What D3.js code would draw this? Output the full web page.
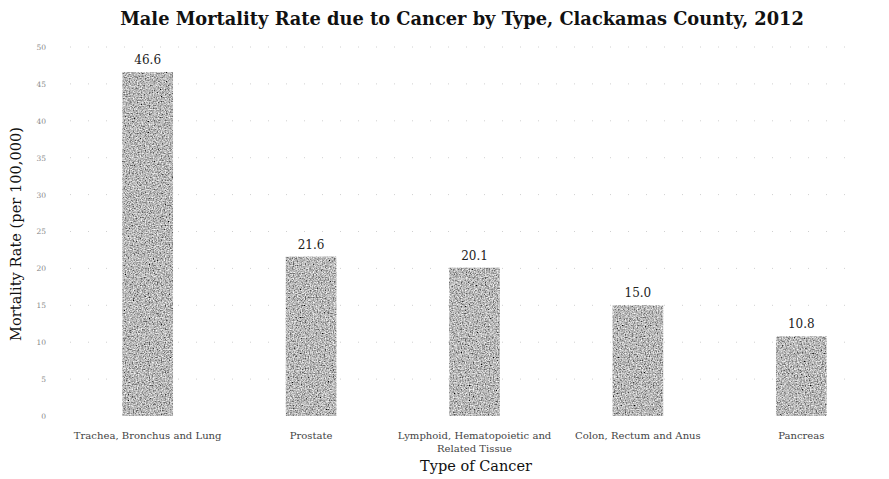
<!DOCTYPE html>
<html><head><meta charset="utf-8">
<script src="https://cdn.jsdelivr.net/npm/d3@7"></script>
<style>body{margin:0;background:#fff}</style>
</head><body>
<svg id="c" width="889" height="479"></svg>
<script>
const categories = [["Trachea, Bronchus and Lung"], ["Prostate"], ["Lymphoid, Hematopoietic and", "Related Tissue"], ["Colon, Rectum and Anus"], ["Pancreas"]];
const values = [46.6, 21.6, 20.1, 15.0, 10.8];
const yTicks = [0, 5, 10, 15, 20, 25, 30, 35, 40, 45, 50];
const title = "Male Mortality Rate due to Cancer by Type, Clackamas County, 2012";
const xTitle = "Type of Cancer";
const yTitle = "Mortality Rate (per 100,000)";

const svg = d3.select("#c");
const font = "'DejaVu Serif', 'Liberation Serif', serif";
const defs = svg.append("defs");
const f = defs.append("filter").attr("id","noise").attr("x",0).attr("y",0).attr("width","100%").attr("height","100%");
f.append("feTurbulence").attr("type","fractalNoise").attr("baseFrequency",0.75).attr("numOctaves",2).attr("seed",5).attr("result","t");
f.append("feColorMatrix").attr("in","t").attr("type","matrix")
 .attr("values","1.4 0 0 0 -0.22  1.4 0 0 0 -0.22  1.4 0 0 0 -0.22  0 0 0 0 1").attr("result","n");
f.append("feComposite").attr("in","n").attr("in2","SourceGraphic").attr("operator","in");

function fit(sel, target) {
  const w = sel.node().getComputedTextLength();
  const fs = parseFloat(sel.attr("font-size"));
  sel.attr("font-size", fs * target / w);
}

const idx = d3.range(values.length);
const x = d3.scaleBand().domain(idx).range([66, 883]).paddingInner(0.69).paddingOuter(0.345);
const y = d3.scaleLinear().domain([0, 50]).range([416, 47]);

// gridlines
svg.append("g").selectAll("line").data(yTicks.filter(d=>d>0)).join("line")
  .attr("x1", 70).attr("x2", 860).attr("y1", d=>y(d)).attr("y2", d=>y(d))
  .attr("stroke", "#d0d0d0").attr("stroke-width", 1).attr("stroke-dasharray", "1,17");

// y axis
const ya = svg.append("g").attr("transform","translate(46,0)")
  .call(d3.axisLeft(y).tickValues(yTicks).tickSize(0).tickPadding(0));
ya.select(".domain").remove();
ya.selectAll("text").attr("font-family", font).attr("font-size", 7.5).attr("fill", "#888");

// bars
svg.append("g").selectAll("rect").data(idx).join("rect")
  .attr("x", i=>x(i)).attr("width", x.bandwidth())
  .attr("y", i=>y(values[i])).attr("height", i=>y(0)-y(values[i]))
  .attr("fill", "#888").attr("filter","url(#noise)");

// value labels
svg.append("g").selectAll("text").data(idx).join("text")
  .attr("x", i=>x(i)+x.bandwidth()/2).attr("y", i=>y(values[i])-8)
  .attr("text-anchor","middle").attr("font-family",font).attr("font-size",12).attr("fill","#222")
  .text(i=>values[i].toFixed(1));

// x axis labels
const xa = svg.append("g").attr("transform","translate(0,416)")
  .call(d3.axisBottom(x).tickSize(0).tickFormat(""));
xa.select(".domain").remove();
const lab = svg.append("g").selectAll("text").data(idx).join("text")
  .attr("x", i=>x(i)+x.bandwidth()/2).attr("y", 439)
  .attr("text-anchor","middle").attr("font-family",font).attr("font-size",10).attr("fill","#444")
  .each(function(i){
    d3.select(this).selectAll("tspan").data(categories[i]).join("tspan")
      .attr("x", x(i)+x.bandwidth()/2).attr("dy",(d,k)=>k?13:0).text(d=>d);
  });
const w0 = lab.nodes()[0].getComputedTextLength();
lab.attr("font-size", 10 * 148 / w0);

// titles
const t = svg.append("text").attr("x", 462).attr("y", 25).attr("text-anchor","middle")
  .attr("font-family",font).attr("font-size",16).attr("font-weight","bold").attr("fill","#111").text(title);
fit(t, 684);
const xt = svg.append("text").attr("x", 476).attr("y", 471).attr("text-anchor","middle")
  .attr("font-family",font).attr("font-size",14).attr("fill","#111").text(xTitle);
fit(xt, 112);
const yt = svg.append("text").attr("transform","translate(21,234) rotate(-90)").attr("text-anchor","middle")
  .attr("font-family",font).attr("font-size",13).attr("fill","#111").text(yTitle);
fit(yt, 214);
</script>
</body></html>
